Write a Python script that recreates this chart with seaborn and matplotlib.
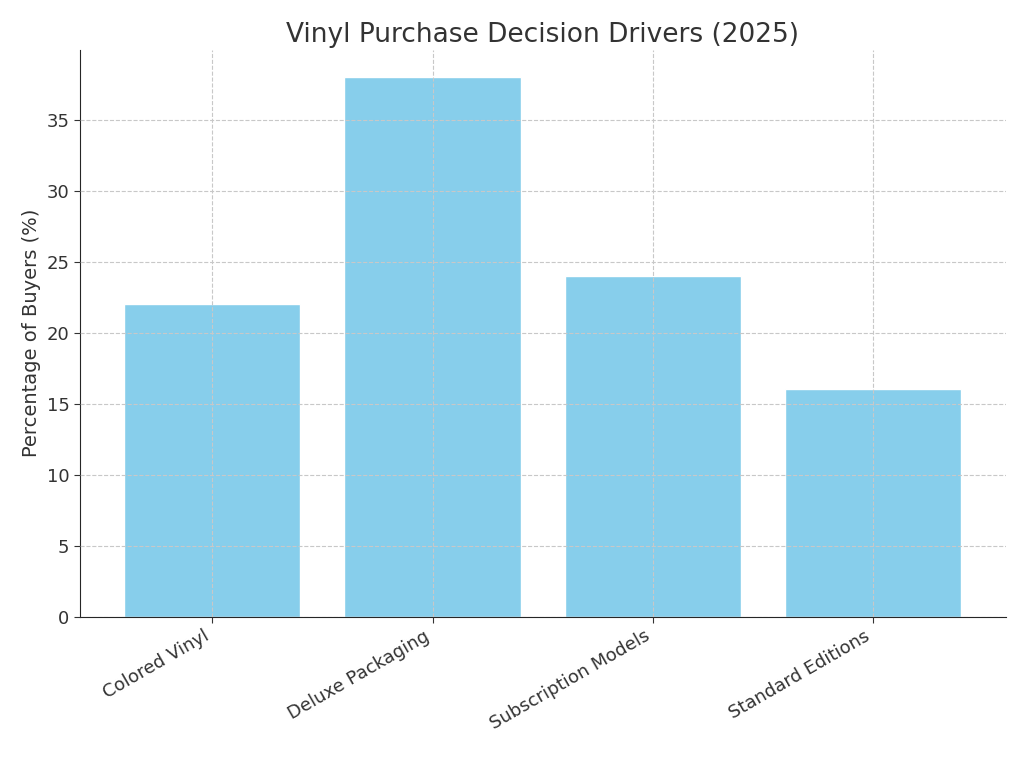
import matplotlib
matplotlib.use("Agg")
import matplotlib.pyplot as plt
import seaborn as sns
import pandas as pd

categories = ["Colored Vinyl", "Deluxe Packaging", "Subscription Models", "Standard Editions"]
values = [22, 38, 24, 16]

sns.set_style("white")
plt.rcParams['font.family'] = ['DejaVu Sans']
df = pd.DataFrame({"cat": categories, "val": values})

fig, ax = plt.subplots(figsize=(10.24, 7.68), dpi=100)
sns.barplot(data=df, x="cat", y="val", color="#87CEEB", saturation=1, width=0.8, ax=ax)
ax.set_axisbelow(False)
ax.grid(True, linestyle="--", color="#c8c8c8", linewidth=0.8)
ax.set_title("Vinyl Purchase Decision Drivers (2025)", fontsize=19, color="#333333")
ax.set_xlabel("")
ax.set_ylabel("Percentage of Buyers (%)", fontsize=14, color="#333333")
ax.set_ylim(0, 39.9)
ax.set_xlim(-0.6, 3.6)
ax.tick_params(axis="both", labelsize=13, colors="#333333", length=4, left=True, bottom=True)
plt.setp(ax.get_xticklabels(), rotation=30, ha="right")
for s in ["top", "right"]:
    ax.spines[s].set_visible(False)
fig.subplots_adjust(left=0.078, right=0.982, top=0.935, bottom=0.197)
fig.savefig("out.png", dpi=100)
